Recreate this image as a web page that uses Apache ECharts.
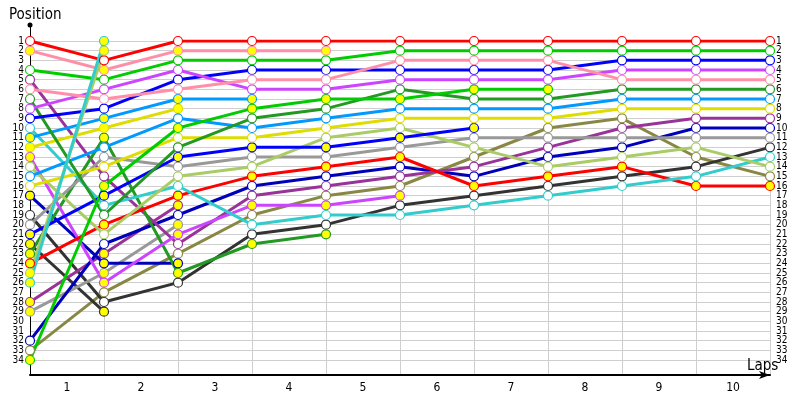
<!DOCTYPE html>
<html><head><meta charset="utf-8">
<script src="https://cdn.jsdelivr.net/npm/echarts@6/dist/echarts.min.js"></script>
<style>html,body{margin:0;padding:0;background:#fff}#c{width:800px;height:400px}</style>
</head><body><div id="c"></div>
<script>
// lap index 0 = start grid
const laps = [0,1,2,3,4,5,6,7,8,9,10];
const lapLabels = ['1','2','3','4','5','6','7','8','9','10'];
const firstPos = 1, lastPos = 34;

// positions per lap for each driver (ends when driver retires)
const redA        = [1,3,1,1,1,1,1,1,1,1,1];
const redB        = [24,20,17,15,14,13,16,15,14,16,16];
const pinkA       = [2,4,2,2,2];
const pinkB       = [6,7,6,5,5,3,3,3,5,5,5];
const greenA      = [4,5,3,3,3,2,2,2,2,2,2];
const greenB      = [34,16,10,8,7,7,6,6];
const violetA     = [8,6,4,6,6,5,5,5,4,4,4];
const violetB     = [13,26,21,18,18,17];
const blueA       = [9,8,5,4,4,4,4,4,3,3,3];
const blueB       = [21,17,13,12,12,11,10];
const navyA       = [17,24,24];
const navyB       = [32,22,19,16,15,14,15,13,12,10,10];
const skyA        = [11,9,7,7];
const skyB        = [15,12,9,10,9,8,8,8,7,7,7];
const yellowA     = [12,10,8];
const yellowB     = [16,14,11,11,10,9,9,9,8,8,8];
const darkGreenA  = [7,19,12,9,8,6,7,7,6,6,6];
const darkGreenB  = [23,11,25,22,21];
const lightGreenA = [14,21,15,14,11,10,12,14,13,12,14];
const lightGreenB = [25,2];
const cyanA       = [10,18,16,20,19,19,18,17,16,15,13];
const cyanB       = [26,1];
const grayA       = [20,13,14,13,13,12,11,11,11,11,11];
const grayB       = [29,25,20];
const purpleA     = [5,15,22,17,16,15,14,12,10,9,9];
const purpleB     = [28,23,18];
const olive       = [33,27,23,19,17,16,13,10,9,13,15];
const blackA      = [19,28,26,21,20,18,17,16,15,14,12];
const blackB      = [22,29];

// styles
const C = {red:'#ff0000',pink:'#ff8fa8',green:'#00cc00',violet:'#cc44ff',blue:'#0000ff',navy:'#0000bb',
  sky:'#0099ff',yellow:'#dddd00',dkgreen:'#229922',ltgreen:'#aacc66',cyan:'#33cccc',gray:'#999999',
  purple:'#993399',olive:'#888844',black:'#333333'};
const W = '#ffffff', Y = '#ffff00';
const drivers = [
  [olive,C.olive,W],[blackA,C.black,W],[blackB,C.black,Y],[grayB,C.gray,Y],[purpleB,C.purple,Y],
  [navyA,C.navy,Y],[navyB,C.navy,W],[purpleA,C.purple,W],[darkGreenB,C.dkgreen,Y],[violetB,C.violet,Y],
  [redB,C.red,Y],[cyanA,C.cyan,W],[grayA,C.gray,W],[lightGreenA,C.ltgreen,W],[blueB,C.blue,Y],
  [yellowB,C.yellow,W],[yellowA,C.yellow,Y],[skyB,C.sky,W],[skyA,C.sky,Y],[darkGreenA,C.dkgreen,W],
  [greenB,C.green,Y],[blueA,C.blue,W],[violetA,C.violet,W],[pinkB,C.pink,W],[greenA,C.green,W],
  [pinkA,C.pink,Y],[redA,C.red,W],[lightGreenB,C.ltgreen,Y],[cyanB,C.cyan,Y]
];

const FONT = "'DejaVu Sans Condensed','DejaVu Sans',sans-serif";
const series = drivers.map(([pos,col,fill]) => ({
  type:'line', xAxisIndex:0, yAxisIndex:0,
  data: pos.map((p,i)=>[laps[i],p]),
  symbol:'circle', symbolSize:9, showAllSymbol:true,
  lineStyle:{color:col,width:3},
  itemStyle:{color:fill,borderColor:col,borderWidth:1.2},
  emphasis:{disabled:true}
}));

// label axes span one extra step on each side so 1 and 34 are interior ticks
const rowH = 319/33;
const yLabel = {fontSize:10,color:'#000',fontFamily:FONT,showMinLabel:false,showMaxLabel:false,
  formatter:v => (v>=firstPos && v<=lastPos) ? String(v) : ''};
const labelAxis = pos => ({gridIndex:3,type:'value',inverse:true,min:firstPos-1,max:lastPos+1,interval:1,position:pos,
  axisLine:{show:false},axisTick:{show:false},axisLabel:Object.assign({margin:6},yLabel),splitLine:{show:false}});

const chart = echarts.init(document.getElementById('c'));
chart.setOption({
  animation:false,
  textStyle:{fontFamily:FONT},
  title:[
    {text:'Position',left:4,top:3,textStyle:{fontSize:15,fontWeight:'normal',color:'#000',fontFamily:FONT}},
    {text:'Laps',left:742,top:354,textStyle:{fontSize:15,fontWeight:'normal',color:'#000',fontFamily:FONT}}
  ],
  grid:[
    {left:30,right:30,top:41,bottom:40},
    {left:30,right:30,top:41,bottom:25},
    {left:30,right:30,top:25,bottom:25},
    {left:30,right:30,top:41-rowH,bottom:40-rowH}
  ],
  xAxis:[
    {gridIndex:0,type:'value',min:0,max:10,show:false},
    {gridIndex:1,type:'category',data:lapLabels,boundaryGap:true,
     axisLine:{show:true,lineStyle:{color:'#000',width:2},symbol:['none','arrow'],symbolSize:[6,11]},
     axisTick:{show:false},
     axisLabel:{fontSize:12,color:'#000',margin:7,fontFamily:FONT},
     splitLine:{show:true,interval:0,lineStyle:{color:'#cfcfcf',width:1}}},
    {gridIndex:2,type:'value',show:false},
    {gridIndex:3,type:'value',show:false}
  ],
  yAxis:[
    {gridIndex:0,type:'value',inverse:true,min:firstPos,max:lastPos,interval:1,position:'left',
     axisLine:{show:false},axisTick:{show:false},axisLabel:{show:false},
     splitLine:{show:true,lineStyle:{color:'#cfcfcf',width:1}}},
    {gridIndex:1,type:'value',show:false},
    {gridIndex:2,type:'value',position:'left',
     axisLine:{show:true,lineStyle:{color:'#000',width:1},symbol:['none','circle'],symbolSize:[5,5]},
     axisTick:{show:false},axisLabel:{show:false},splitLine:{show:false}},
    labelAxis('left'),
    labelAxis('right')
  ],
  series: series
});
</script></body></html>
